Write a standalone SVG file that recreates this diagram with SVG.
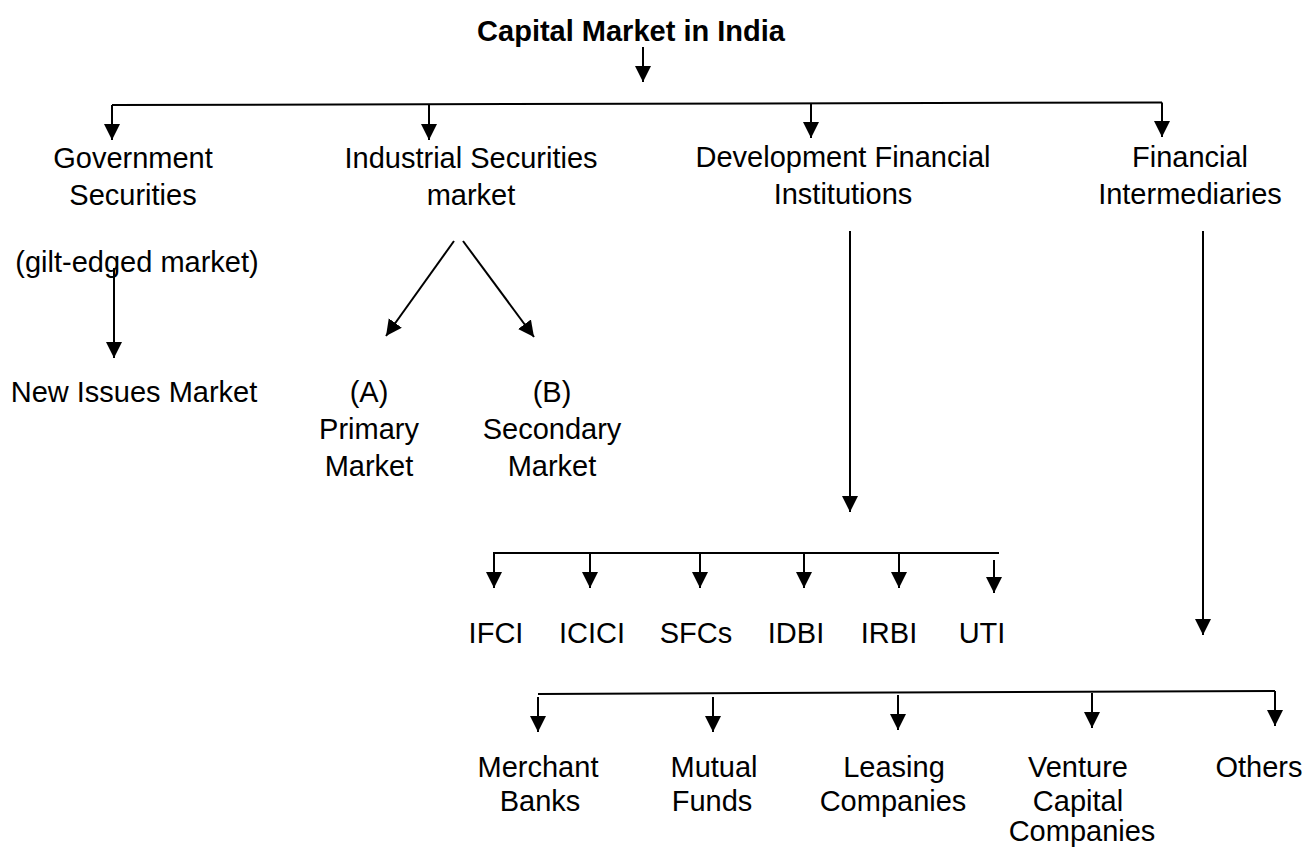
<svg xmlns="http://www.w3.org/2000/svg" width="1313" height="847" viewBox="0 0 1313 847">
  <style>
    text { font-family: "Liberation Sans", Arial, sans-serif; font-size: 29px; fill: #000; text-anchor: middle; }
    .title { font-weight: bold; }
    .edge { stroke: #000; stroke-width: 2; fill: none; }
    .arrow { marker-end: url(#head); }
  </style>
  <defs>
    <marker id="head" markerUnits="userSpaceOnUse" markerWidth="17" markerHeight="17" viewBox="0 0 17 17" refX="16" refY="8.5" orient="auto">
      <path d="M0,0.5 L16,8.5 L0,16.5 z" fill="#000"/>
    </marker>
  </defs>
  <rect width="1313" height="847" fill="#fff"/>

  <g id="connectors">
    <!-- root down to the main bus -->
    <line class="edge arrow" x1="643" y1="47" x2="643" y2="82"/>
    <line class="edge" x1="112" y1="105" x2="1162" y2="102.5"/>
    <line class="edge arrow" x1="112" y1="105" x2="112" y2="140"/>
    <line class="edge arrow" x1="429" y1="104" x2="429" y2="140"/>
    <line class="edge arrow" x1="811" y1="103" x2="811" y2="138"/>
    <line class="edge arrow" x1="1162" y1="102.5" x2="1162" y2="137"/>

    <!-- government securities -->
    <line class="edge arrow" x1="114" y1="268" x2="114" y2="358"/>

    <!-- industrial securities split -->
    <line class="edge arrow" x1="454" y1="241" x2="386" y2="336"/>
    <line class="edge arrow" x1="463" y1="241" x2="534" y2="337"/>

    <!-- development financial institutions -->
    <line class="edge arrow" x1="850" y1="231" x2="850" y2="512"/>
    <line class="edge" x1="493" y1="553" x2="999" y2="553"/>
    <line class="edge arrow" x1="494" y1="553" x2="494" y2="588"/>
    <line class="edge arrow" x1="590" y1="553" x2="590" y2="588"/>
    <line class="edge arrow" x1="700" y1="553" x2="700" y2="588"/>
    <line class="edge arrow" x1="804" y1="553" x2="804" y2="588"/>
    <line class="edge arrow" x1="899" y1="553" x2="899" y2="588"/>
    <line class="edge arrow" x1="994" y1="560" x2="994" y2="593"/>

    <!-- financial intermediaries -->
    <line class="edge arrow" x1="1203" y1="231" x2="1203" y2="635"/>
    <line class="edge" x1="538" y1="694" x2="1275" y2="691"/>
    <line class="edge arrow" x1="538" y1="697" x2="538" y2="732"/>
    <line class="edge arrow" x1="713" y1="697" x2="713" y2="732"/>
    <line class="edge arrow" x1="898" y1="695" x2="898" y2="730"/>
    <line class="edge arrow" x1="1092" y1="693" x2="1092" y2="728"/>
    <line class="edge arrow" x1="1275" y1="691" x2="1275" y2="726"/>
  </g>

  <g id="capital-market">
    <text class="title" x="631" y="41">Capital Market in India</text>
  </g>

  <g id="government-securities">
    <text x="133" y="168">Government</text>
    <text x="133" y="205">Securities</text>
  </g>
  <g id="gilt-edged">
    <text x="137" y="272">(gilt-edged market)</text>
  </g>
  <g id="new-issues">
    <text x="134" y="402">New Issues Market</text>
  </g>

  <g id="industrial-securities">
    <text x="471" y="168">Industrial Securities</text>
    <text x="471" y="205">market</text>
  </g>
  <g id="primary-market">
    <text x="369" y="402">(A)</text>
    <text x="369" y="439">Primary</text>
    <text x="369" y="476">Market</text>
  </g>
  <g id="secondary-market">
    <text x="552" y="402">(B)</text>
    <text x="552" y="439">Secondary</text>
    <text x="552" y="476">Market</text>
  </g>

  <g id="development-financial-institutions">
    <text x="843" y="167">Development Financial</text>
    <text x="843" y="204">Institutions</text>
  </g>
  <g id="ifci"><text x="496" y="643">IFCI</text></g>
  <g id="icici"><text x="592" y="643">ICICI</text></g>
  <g id="sfcs"><text x="696" y="643">SFCs</text></g>
  <g id="idbi"><text x="796" y="643">IDBI</text></g>
  <g id="irbi"><text x="889" y="643">IRBI</text></g>
  <g id="uti"><text x="982" y="643">UTI</text></g>

  <g id="financial-intermediaries">
    <text x="1190" y="167">Financial</text>
    <text x="1190" y="204">Intermediaries</text>
  </g>
  <g id="merchant-banks">
    <text x="538" y="777">Merchant</text>
    <text x="540" y="811">Banks</text>
  </g>
  <g id="mutual-funds">
    <text x="714" y="777">Mutual</text>
    <text x="712" y="811">Funds</text>
  </g>
  <g id="leasing-companies">
    <text x="894" y="777">Leasing</text>
    <text x="893" y="811">Companies</text>
  </g>
  <g id="venture-capital-companies">
    <text x="1078" y="777">Venture</text>
    <text x="1078" y="811">Capital</text>
    <text x="1082" y="841">Companies</text>
  </g>
  <g id="others">
    <text x="1259" y="777">Others</text>
  </g>
</svg>
